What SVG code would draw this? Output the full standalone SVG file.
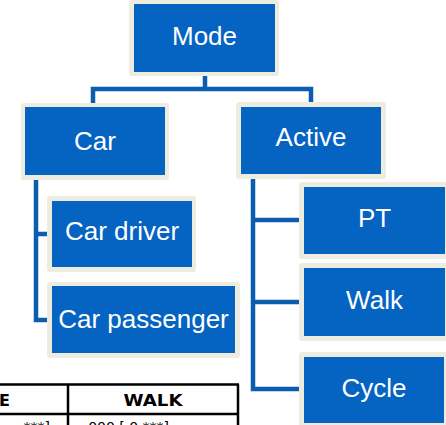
<svg xmlns="http://www.w3.org/2000/svg" width="446" height="425" viewBox="0 0 446 425">
<style>
.frame{fill:#EEECE1}
.box{fill:#0563C1}
.lbl{font-family:"Liberation Sans",Arial,sans-serif;font-size:26px;fill:#FFFFFF;text-anchor:middle}
.conn{fill:none;stroke:#0B5DAF;stroke-width:4.5;stroke-linecap:square;stroke-linejoin:miter}
.tbl{stroke:#000;stroke-width:2.5;fill:none}
.th{font-family:"DejaVu Sans",Verdana,sans-serif;font-weight:bold;font-size:16px;fill:#000}
.td{font-family:"DejaVu Sans",Verdana,sans-serif;font-size:14px;fill:#000}
</style>
<rect width="446" height="425" fill="#FFFFFF"/>
<g id="table">
<path class="tbl" d="M0 384.5H239M0 414H239M68 384.5V425M238 384.5V425"/>
<text class="th" x="10" y="406" text-anchor="end">E</text>
<text class="th" x="153" y="406" text-anchor="middle" textLength="59" lengthAdjust="spacingAndGlyphs">WALK</text>
<text class="td" x="50" y="432" text-anchor="end">***]</text>
<text class="td" x="72" y="432">= 000 [ 0 ***]</text>
</g>
<g id="connectors">
<path class="conn" d="M205 76V89M93 103V89H311V102"/>
<path class="conn" d="M36 180V320H47M36 234H47"/>
<path class="conn" d="M253 179V389H299M253 220H299M253 302H299"/>
</g>
<g id="mode">
<rect class="frame" x="129" y="0" width="150" height="76" rx="3"/>
<rect class="box" x="134" y="4" width="141" height="68"/>
<text class="lbl" x="204.5" y="45">Mode</text>
</g>
<g id="car">
<rect class="frame" x="21" y="103" width="148" height="77" rx="3"/>
<rect class="box" x="25" y="107" width="140" height="68"/>
<text class="lbl" x="95" y="150">Car</text>
</g>
<g id="active">
<rect class="frame" x="236" y="102" width="150" height="77" rx="3"/>
<rect class="box" x="241" y="107" width="140" height="67"/>
<text class="lbl" x="311" y="146">Active</text>
</g>
<g id="car-driver">
<rect class="frame" x="47" y="196" width="149" height="76" rx="3"/>
<rect class="box" x="52" y="201" width="140" height="66"/>
<text class="lbl" x="122" y="240">Car driver</text>
</g>
<g id="car-passenger">
<rect class="frame" x="47" y="282" width="193" height="76" rx="3"/>
<rect class="box" x="52" y="286" width="183" height="67"/>
<text class="lbl" x="143.5" y="328">Car passenger</text>
</g>
<g id="pt">
<rect class="frame" x="299" y="182" width="150" height="77" rx="3"/>
<rect class="box" x="304" y="187" width="141" height="67"/>
<text class="lbl" x="374.5" y="227">PT</text>
</g>
<g id="walk">
<rect class="frame" x="299" y="263" width="150" height="78" rx="3"/>
<rect class="box" x="304" y="268" width="141" height="68"/>
<text class="lbl" x="374.5" y="309">Walk</text>
</g>
<g id="cycle">
<rect class="frame" x="299" y="352" width="150" height="76" rx="3"/>
<rect class="box" x="304" y="357" width="140" height="66"/>
<text class="lbl" x="374" y="397">Cycle</text>
</g>
</svg>
